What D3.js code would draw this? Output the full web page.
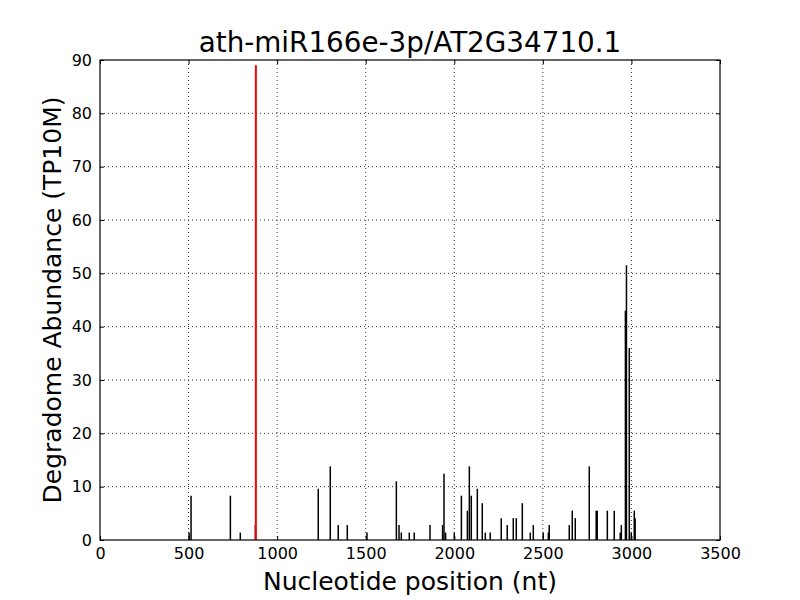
<!DOCTYPE html>
<html><head><meta charset="utf-8">
<script src="https://cdn.jsdelivr.net/npm/d3@7"></script>
<style>body{margin:0;background:#fff}svg{display:block}text{font-family:"DejaVu Sans",sans-serif}</style>
</head><body>
<svg id="c" width="800" height="600"></svg>
<script>
const titleText = "ath-miR166e-3p/AT2G34710.1";
const xLabel = "Nucleotide position (nt)";
const yLabel = "Degradome Abundance (TP10M)";
const xTicks = [0,500,1000,1500,2000,2500,3000,3500];
const yTicks = [0,10,20,30,40,50,60,70,80,90];
const positions = [503,514,736,792,877,1232,1300,1345,1396,1507,1673,1688,1701,1746,1774,1863,1934,1942,1951,2000,2040,2074,2085,2096,2130,2158,2175,2203,2265,2299,2333,2350,2384,2429,2446,2502,2531,2536,2649,2666,2683,2762,2801,2807,2864,2903,2937,2943,2966,2972,2988,2999,3016,3021];
const values =    [1.4,8.3,8.3,1.4,2.8,9.6,13.8,2.8,2.8,1.4,11.0,2.8,1.4,1.4,1.4,2.8,2.8,12.4,1.4,1.4,8.3,5.5,13.8,8.3,9.6,6.9,1.4,1.4,4.1,2.8,4.1,4.1,6.9,1.4,2.8,1.4,1.4,2.8,2.8,5.5,4.1,13.8,5.5,5.5,5.5,5.5,1.4,2.8,43.0,51.5,36.0,1.4,5.5,4.1];
const targetPos = [880];
const targetVal = [89.0];

const svg = d3.select("#c");
const L=100,R=720,T=60,B=540;
const x = d3.scaleLinear().domain([0,3500]).range([L,R]);
const y = d3.scaleLinear().domain([0,90]).range([B,T]);

// grid
const g = svg.append("g");
g.selectAll(".gx").data(xTicks.slice(1,-1)).join("line")
 .attr("x1",d=>x(d)).attr("x2",d=>x(d)).attr("y1",T).attr("y2",B)
 .attr("stroke","#000").attr("stroke-width",0.8).attr("stroke-dasharray","1,3");
g.selectAll(".gy").data(yTicks.slice(1,-1)).join("line")
 .attr("y1",d=>y(d)).attr("y2",d=>y(d)).attr("x1",L).attr("x2",R)
 .attr("stroke","#000").attr("stroke-width",0.8).attr("stroke-dasharray","1,3");

// bars
svg.append("g").selectAll("line").data(positions.map((p,i)=>[p,values[i]])).join("line")
 .attr("x1",d=>x(d[0])).attr("x2",d=>x(d[0])).attr("y1",y(0)).attr("y2",d=>y(d[1]))
 .attr("stroke","#000").attr("stroke-width",1.5);
svg.append("g").selectAll("line").data(targetPos.map((p,i)=>[p,targetVal[i]])).join("line")
 .attr("x1",d=>x(d[0])).attr("x2",d=>x(d[0])).attr("y1",y(0)).attr("y2",d=>y(d[1]))
 .attr("stroke","#ff0000").attr("stroke-width",2);

// axes
const ax = svg.append("g").attr("transform",`translate(0,${B})`)
 .call(d3.axisBottom(x).tickValues(xTicks).tickSize(-4).tickPadding(8).tickFormat(d3.format("d")));
const axT = svg.append("g").attr("transform",`translate(0,${T})`)
 .call(d3.axisTop(x).tickValues(xTicks).tickSize(-4).tickFormat(""));
const ay = svg.append("g").attr("transform",`translate(${L},0)`)
 .call(d3.axisLeft(y).tickValues(yTicks).tickSize(-4).tickPadding(8));
const ayR = svg.append("g").attr("transform",`translate(${R},0)`)
 .call(d3.axisRight(y).tickValues(yTicks).tickSize(-4).tickFormat(""));
[ax,axT,ay,ayR].forEach(a=>{a.select(".domain").remove();a.selectAll("line").attr("stroke","#000");
 a.selectAll("text").attr("font-family","DejaVu Sans").attr("font-size",16).attr("fill","#000");});
svg.append("rect").attr("x",L).attr("y",T).attr("width",R-L).attr("height",B-T)
 .attr("fill","none").attr("stroke","#000").attr("stroke-width",1.2);

svg.append("text").attr("x",(L+R)/2).attr("y",52).attr("text-anchor","middle")
 .attr("font-size",27.8).text(titleText);
svg.append("text").attr("x",(L+R)/2).attr("y",590).attr("text-anchor","middle")
 .attr("font-size",25).text(xLabel);
svg.append("text").attr("transform",`translate(61,${(T+B)/2}) rotate(-90)`).attr("text-anchor","middle")
 .attr("font-size",25).text(yLabel);
</script>
</body></html>
